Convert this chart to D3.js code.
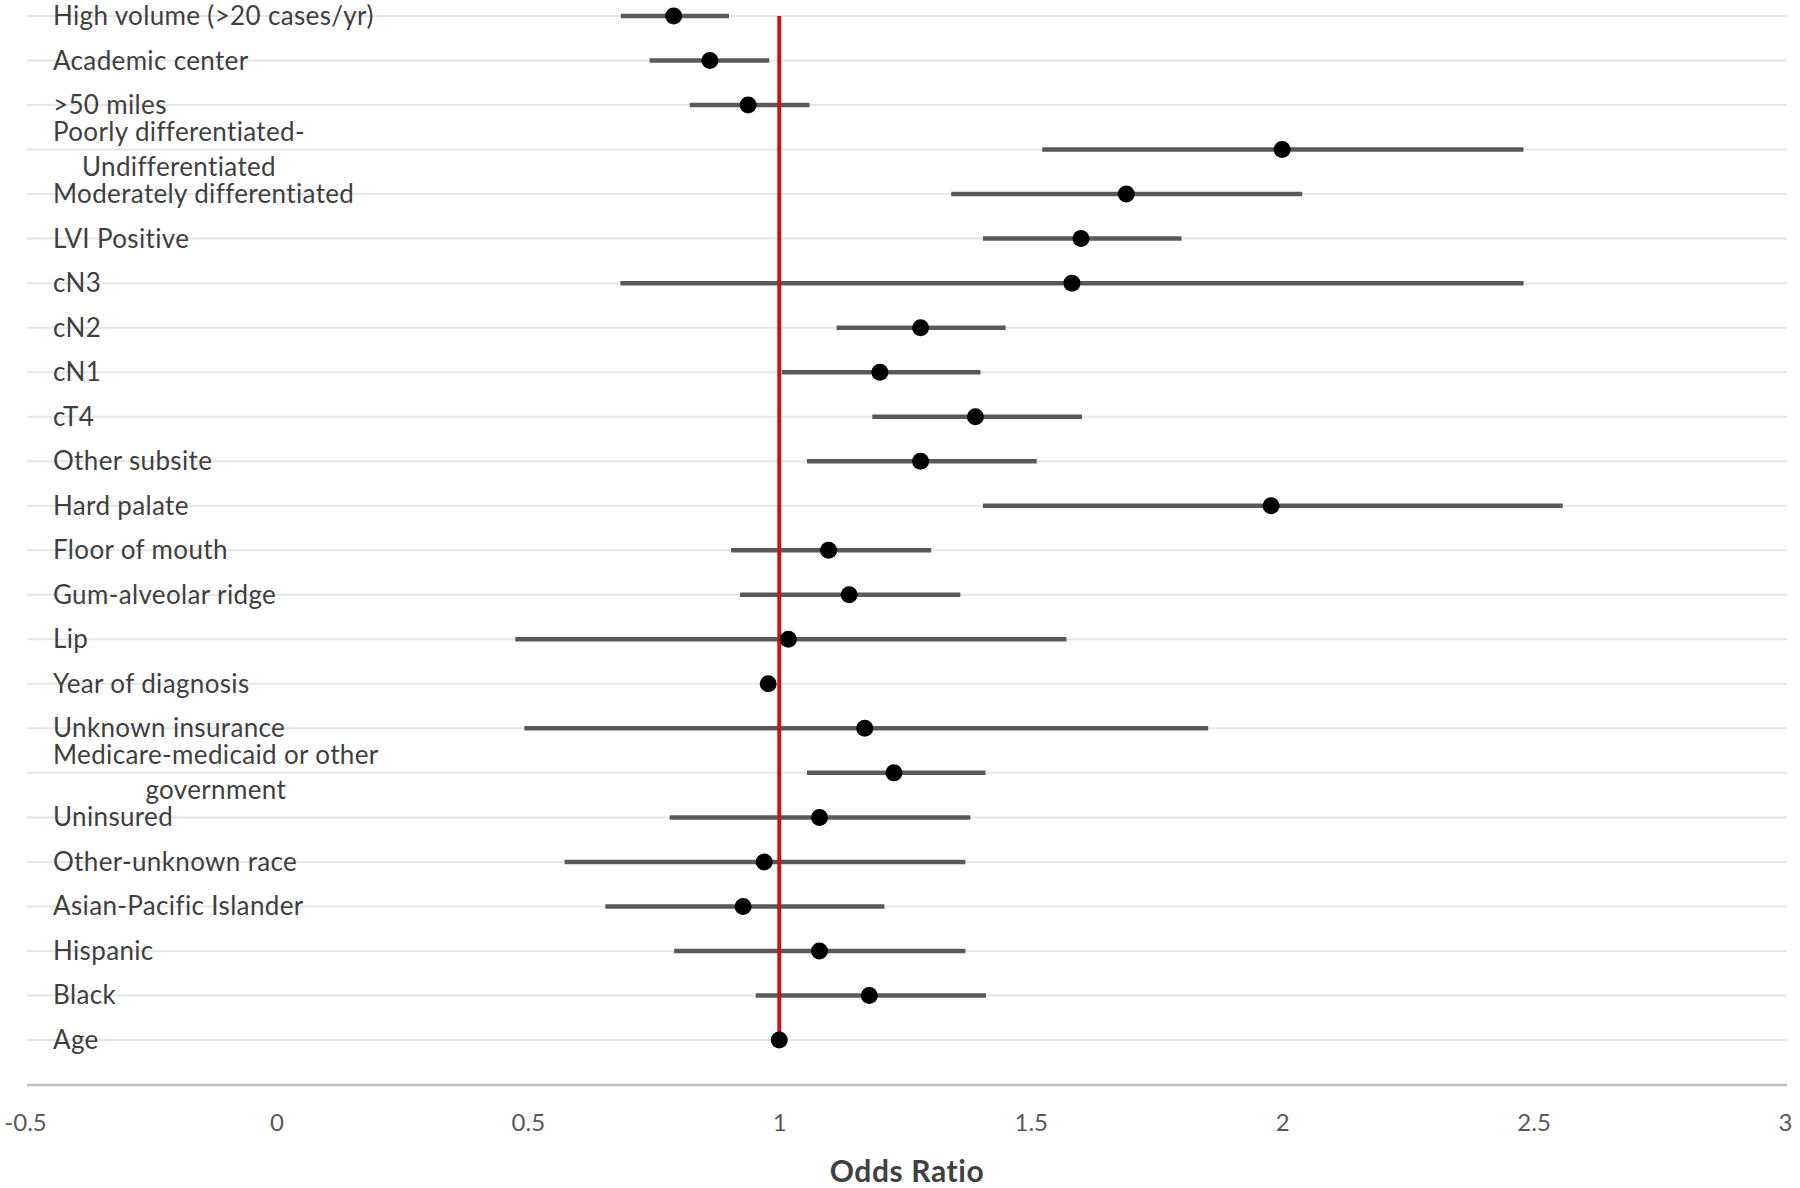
<!DOCTYPE html>
<html>
<head>
<meta charset="utf-8">
<script src="https://cdn.jsdelivr.net/npm/d3@7"></script>
<style>
  html, body { margin: 0; padding: 0; background: #ffffff; }
  svg { display: block; }
</style>
</head>
<body>
<div id="chart"></div>
<script>
// ---- Data ----
const labels = [
  "High volume (>20 cases/yr)",
  "Academic center",
  ">50 miles",
  "Poorly differentiated-\nUndifferentiated",
  "Moderately differentiated",
  "LVI Positive",
  "cN3",
  "cN2",
  "cN1",
  "cT4",
  "Other subsite",
  "Hard palate",
  "Floor of mouth",
  "Gum-alveolar ridge",
  "Lip",
  "Year of diagnosis",
  "Unknown insurance",
  "Medicare-medicaid or other\ngovernment",
  "Uninsured",
  "Other-unknown race",
  "Asian-Pacific Islander",
  "Hispanic",
  "Black",
  "Age"
];
const oddsRatio = [0.79, 0.862, 0.938, 2.0, 1.69, 1.60, 1.582, 1.281, 1.20, 1.39, 1.281, 1.978,
                   1.098, 1.139, 1.018, 0.978, 1.17, 1.228, 1.08, 0.97, 0.928, 1.08, 1.179, 1.0];
const ciLow  = [0.685, 0.742, 0.822, 1.523, 1.342, 1.405, 0.684, 1.114, 1.005, 1.185, 1.055, 1.405,
                0.904, 0.922, 0.475, 0.975, 0.493, 1.055, 0.782, 0.573, 0.654, 0.791, 0.953, 0.998];
const ciHigh = [0.90, 0.98, 1.06, 2.48, 2.04, 1.80, 2.48, 1.45, 1.40, 1.602, 1.512, 2.558,
                1.302, 1.36, 1.571, 0.981, 1.853, 1.41, 1.38, 1.37, 1.209, 1.37, 1.411, 1.002];
const xTicks = [-0.5, 0, 0.5, 1, 1.5, 2, 2.5, 3];
const xTickLabels = ["-0.5", "0", "0.5", "1", "1.5", "2", "2.5", "3"];
const xTitle = "Odds Ratio";
const refValue = 1;

// ---- Layout ----
const W = 1800, H = 1188;
const plotLeft = 25, plotRight = 1785;
const rowTop = 16, rowBottom = 1040;
const axisY = 1085;
const labelX = 53;
const FONT = "Lato, 'Open Sans', sans-serif";

const svg = d3.select("#chart").append("svg")
  .attr("width", W).attr("height", H)
  .style("background", "#fff");

const x = d3.scaleLinear().domain([-0.5, 3]).range([plotLeft, plotRight]);
const y = d3.scalePoint().domain(d3.range(labels.length)).range([rowTop, rowBottom]);

const rows = labels.map((l, i) => ({ label: l, or: oddsRatio[i], lo: ciLow[i], hi: ciHigh[i], i }));

// gridlines
svg.append("g").selectAll("line").data(rows).join("line")
  .attr("x1", x.range()[0] + 2).attr("x2", x.range()[1] + 2)
  .attr("y1", d => y(d.i)).attr("y2", d => y(d.i))
  .attr("stroke", "#e6e6e6").attr("stroke-width", 2);

// category labels
const lab = svg.append("g")
  .attr("font-family", FONT).attr("font-size", 26).attr("letter-spacing", 0.35)
  .attr("fill", "#3f3f3f");
rows.forEach(d => {
  const lines = d.label.split("\n");
  const lineH = 35;
  if (lines.length === 1) {
    lab.append("text").attr("x", labelX).attr("y", y(d.i) + 9).text(lines[0]);
  } else {
    const g = lab.append("g");
    const texts = lines.map((t, k) => g.append("text")
      .attr("y", y(d.i) + 9 - (lines.length - 1) * lineH / 2 + k * lineH)
      .text(t));
    const maxW = d3.max(texts, t => t.node().getComputedTextLength());
    texts.forEach(t => t.attr("x", labelX + maxW / 2).attr("text-anchor", "middle"));
  }
});

// x axis
const axis = d3.axisBottom(x).tickValues(xTicks)
  .tickFormat((d, k) => xTickLabels[k]).tickSize(0).tickPadding(0);
const ax = svg.append("g").attr("transform", `translate(0,${axisY})`).call(axis);
ax.select(".domain").attr("stroke", "#bfbfbf").attr("stroke-width", 2.5)
  .attr("d", `M${x.range()[0] + 2},0H${x.range()[1] + 2}`);
ax.selectAll(".tick text")
  .attr("font-family", FONT).attr("font-size", 24).attr("fill", "#595959")
  .attr("dy", null).attr("y", 46);

// axis title
svg.append("text")
  .attr("x", (x.range()[0] + x.range()[1]) / 2 + 2).attr("y", 1182)
  .attr("text-anchor", "middle")
  .attr("font-family", FONT).attr("font-size", 30).attr("font-weight", "bold")
  .attr("letter-spacing", 0.6)
  .attr("fill", "#404040").text(xTitle);

// CI lines
svg.append("g").selectAll("line").data(rows).join("line")
  .attr("x1", d => x(d.lo)).attr("x2", d => x(d.hi))
  .attr("y1", d => y(d.i)).attr("y2", d => y(d.i))
  .attr("stroke", "#595959").attr("stroke-width", 4.5);

// reference line
svg.append("line")
  .attr("x1", x(refValue)).attr("x2", x(refValue))
  .attr("y1", y(0)).attr("y2", y(labels.length - 1))
  .attr("stroke", "#c81414").attr("stroke-width", 4);

// points
svg.append("g").selectAll("circle").data(rows).join("circle")
  .attr("cx", d => x(d.or)).attr("cy", d => y(d.i)).attr("r", 8.5)
  .attr("fill", "#000");
</script>
</body>
</html>
